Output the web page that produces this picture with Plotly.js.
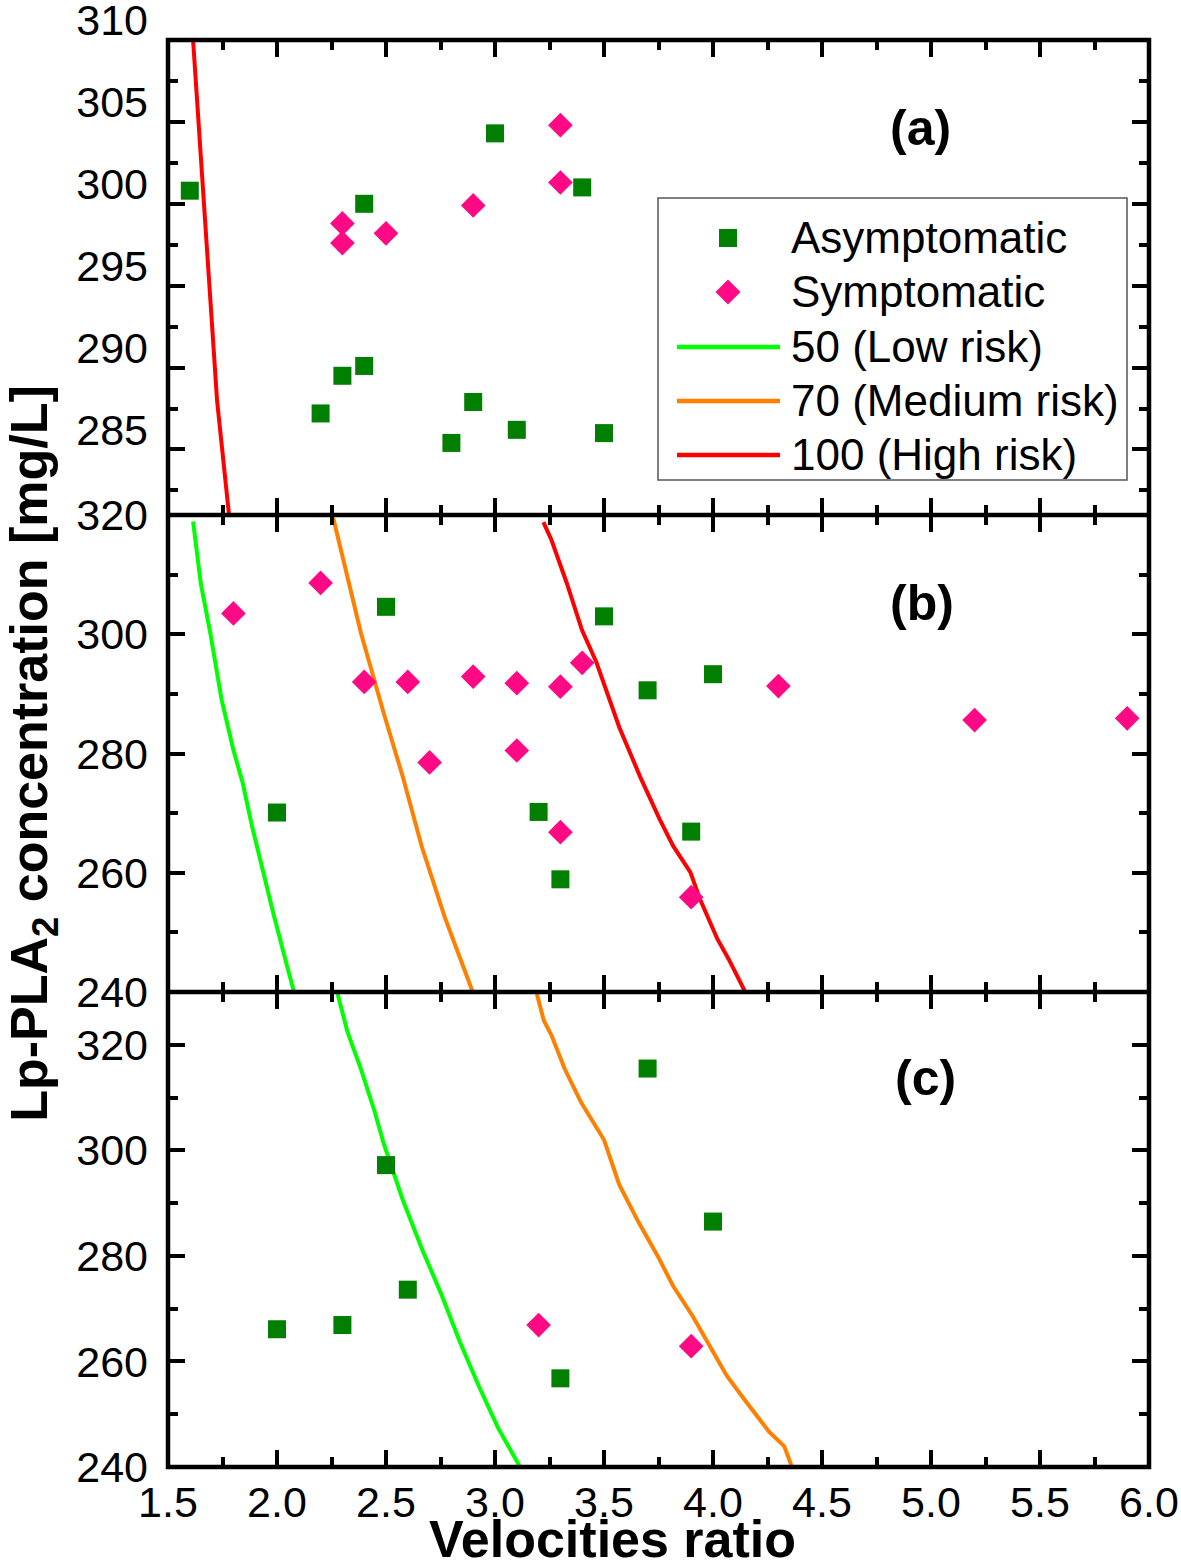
<!DOCTYPE html>
<html>
<head>
<meta charset="utf-8">
<script src="https://cdn.plot.ly/plotly-3.0.1.min.js"></script>
<style>html,body{margin:0;padding:0;background:#fff;}#chart{width:1181px;height:1564px;}</style>
</head>
<body>
<div id="chart"></div>
<script>
// ---------- Panel (a) ----------
var a_asym_x = [1.6, 2.4, 3.0, 3.4, 2.3, 2.4, 2.2, 2.9, 2.8, 3.1, 3.5];
var a_asym_y = [300.8, 300.0, 304.3, 301.0, 289.5, 290.1, 287.2, 287.9, 285.4, 286.2, 286.0];
var a_sym_x = [2.3, 2.3, 2.5, 2.9, 3.3, 3.3];
var a_sym_y = [298.8, 297.6, 298.2, 299.9, 304.8, 301.3];
var a_high_x = [1.615, 1.655, 1.693, 1.725, 1.780];
var a_high_y = [310.0, 302.0, 295.3, 288.0, 281.0];

// ---------- Panel (b) ----------
var b_asym_x = [2.5, 3.5, 3.7, 4.0, 2.0, 3.2, 3.9, 3.3];
var b_asym_y = [304.6, 303.0, 290.6, 293.3, 270.1, 270.2, 266.9, 258.9];
var b_sym_x = [1.8, 2.2, 2.4, 2.6, 2.9, 3.1, 3.3, 3.4, 4.3, 5.2, 5.9, 2.7, 3.1, 3.3, 3.9];
var b_sym_y = [303.5, 308.6, 292.0, 292.0, 292.9, 291.8, 291.2, 295.2, 291.3, 285.6, 285.9, 278.5, 280.5, 266.8, 255.9];
var b_low_x = [1.615, 1.650, 1.694, 1.746, 1.800, 1.843, 1.886, 1.948, 1.983, 2.035, 2.078];
var b_low_y = [318.9, 308.6, 300.2, 289.0, 280.6, 275.0, 267.7, 258.2, 253.2, 245.9, 240.0];
var b_med_x = [2.258, 2.385, 2.490, 2.577, 2.664, 2.769, 2.898];
var b_med_y = [319.5, 300.2, 286.7, 276.1, 264.4, 252.6, 240.0];
var b_high_x = [3.222, 3.259, 3.329, 3.399, 3.465, 3.570, 3.667, 3.755, 3.817, 3.896, 3.940, 4.020, 4.072, 4.148];
var b_high_y = [318.8, 315.8, 308.6, 300.7, 295.3, 284.4, 276.0, 269.0, 264.5, 260.1, 255.6, 248.9, 245.5, 240.0];

// ---------- Panel (c) ----------
var c_asym_x = [3.7, 2.5, 4.0, 2.6, 2.0, 2.3, 3.3];
var c_asym_y = [315.5, 297.2, 286.5, 273.6, 266.1, 266.9, 256.8];
var c_sym_x = [3.2, 3.9];
var c_sym_y = [266.9, 262.9];
var c_low_x = [2.278, 2.323, 2.385, 2.446, 2.490, 2.577, 2.664, 2.752, 2.839, 2.927, 3.014, 3.115];
var c_low_y = [329.6, 322.5, 315.4, 307.6, 301.2, 290.6, 281.4, 272.9, 263.7, 255.2, 247.4, 240.0];
var c_med_x = [3.192, 3.224, 3.259, 3.320, 3.396, 3.500, 3.570, 3.658, 3.746, 3.817, 3.905, 3.975, 4.063, 4.151, 4.257, 4.327, 4.362];
var c_med_y = [329.6, 324.6, 321.8, 315.4, 309.0, 302.0, 293.5, 286.4, 280.0, 274.3, 268.7, 263.7, 257.3, 252.4, 246.7, 243.9, 240.0];

// ---------- Labels ----------
var seriesNames = ['Asymptomatic', 'Symptomatic', '50 (Low risk)', '70 (Medium risk)', '100 (High risk)'];
var panelLabels = ['(a)', '(b)', '(c)'];
var xTitle = 'Velocities ratio';
var yTitle = 'Lp-PLA<sub>2</sub> concentration [mg/L]';

var GREEN_M = '#007f00', PINK = '#ff0a84';
var LOW = '#00ff00', MED = '#ff8000', HIGH = '#ff0000';
var FONT = 'Liberation Sans, Arial, sans-serif';

// plot-area geometry in pixels (used to place the hand-made legend)
var W = 1181, H = 1564, L = 168, R = 32, T = 40, B = 97;
var PW = W - L - R, PH = H - T - B;
function px(x) { return (x - L) / PW; }
function py(y) { return (H - B - y) / PH; }
var dC = (H - B - 992) / PH, dB = (H - B - 515) / PH;

function sq(x, y, xa, ya) {
  return {type: 'scatter', mode: 'markers', x: x, y: y, xaxis: xa, yaxis: ya,
    name: seriesNames[0], showlegend: false, marker: {symbol: 'square', size: 18, color: GREEN_M}};
}
function dm(x, y, xa, ya) {
  return {type: 'scatter', mode: 'markers', x: x, y: y, xaxis: xa, yaxis: ya,
    name: seriesNames[1], showlegend: false, marker: {symbol: 'diamond', size: 19, color: PINK}};
}
function ln(x, y, xa, ya, idx, color) {
  return {type: 'scatter', mode: 'lines', x: x, y: y, xaxis: xa, yaxis: ya,
    name: seriesNames[idx], showlegend: false, line: {color: color, width: 4}};
}

var traces = [
  ln(a_high_x, a_high_y, 'x3', 'y3', 4, HIGH),
  sq(a_asym_x, a_asym_y, 'x3', 'y3'),
  dm(a_sym_x, a_sym_y, 'x3', 'y3'),
  ln(b_low_x, b_low_y, 'x2', 'y2', 2, LOW),
  ln(b_med_x, b_med_y, 'x2', 'y2', 3, MED),
  ln(b_high_x, b_high_y, 'x2', 'y2', 4, HIGH),
  sq(b_asym_x, b_asym_y, 'x2', 'y2'),
  dm(b_sym_x, b_sym_y, 'x2', 'y2'),
  ln(c_low_x, c_low_y, 'x', 'y', 2, LOW),
  ln(c_med_x, c_med_y, 'x', 'y', 3, MED),
  sq(c_asym_x, c_asym_y, 'x', 'y'),
  dm(c_sym_x, c_sym_y, 'x', 'y')
];

function xAxis(anchor, labels) {
  return {anchor: anchor, range: [1.5, 6.0], dtick: 0.5, tick0: 0, tickformat: '.1f',
    ticks: 'inside', ticklen: 17, tickwidth: 4, tickcolor: '#000',
    minor: {dtick: 0.25, ticks: 'inside', ticklen: 10, tickwidth: 4, tickcolor: '#000', showgrid: false},
    showline: false, mirror: 'ticks',
    showgrid: false, zeroline: false, showticklabels: labels, automargin: false,
    tickfont: {family: FONT, size: 43, color: '#000'}, ticklabelstandoff: 6, fixedrange: true};
}
function yAxis(domain, range, dtick, mdtick, shift) {
  return {domain: domain, range: range, dtick: dtick, tick0: 0,
    ticks: 'inside', ticklen: 17, tickwidth: 4, tickcolor: '#000',
    minor: {dtick: mdtick, ticks: 'inside', ticklen: 10, tickwidth: 4, tickcolor: '#000', showgrid: false},
    showline: false, mirror: 'ticks',
    showgrid: false, zeroline: false, automargin: false,
    tickfont: {family: FONT, size: 43, color: '#000'}, ticklabelstandoff: 19,
    ticklabelshift: shift, ticklabeloverflow: 'allow', fixedrange: true};
}

var legendRowsY = [238, 292, 347, 401, 455];
var lineColors = [null, null, LOW, MED, HIGH];

var shapes = [
  // frame and panel separators
  {type: 'rect', xref: 'paper', yref: 'paper', x0: 0, x1: 1, y0: 0, y1: 1, line: {color: '#000', width: 4.5}},
  {type: 'line', xref: 'paper', yref: 'paper', x0: 0, x1: 1, y0: dC, y1: dC, line: {color: '#000', width: 4.5}},
  {type: 'line', xref: 'paper', yref: 'paper', x0: 0, x1: 1, y0: dB, y1: dB, line: {color: '#000', width: 4.5}},
  // legend box
  {type: 'rect', xref: 'paper', yref: 'paper', x0: px(658), x1: px(1127), y0: py(480), y1: py(198),
    line: {color: '#555', width: 1.5}, fillcolor: '#fff'},
  // legend symbols
  {type: 'rect', xref: 'paper', yref: 'paper', xsizemode: 'pixel', ysizemode: 'pixel',
    xanchor: px(728), yanchor: py(legendRowsY[0]), x0: -9, x1: 9, y0: -9, y1: 9,
    line: {width: 0}, fillcolor: GREEN_M},
  {type: 'path', xref: 'paper', yref: 'paper', xsizemode: 'pixel', ysizemode: 'pixel',
    xanchor: px(728), yanchor: py(legendRowsY[1]), path: 'M0,12.5 L12.5,0 L0,-12.5 L-12.5,0 Z',
    line: {width: 0}, fillcolor: PINK}
];
for (var i = 2; i < 5; i++) {
  shapes.push({type: 'line', xref: 'paper', yref: 'paper', x0: px(677), x1: px(780),
    y0: py(legendRowsY[i]), y1: py(legendRowsY[i]), line: {color: lineColors[i], width: 4.5}});
}

var annotations = [];
for (var k = 0; k < 5; k++) {
  annotations.push({xref: 'paper', yref: 'paper', x: px(789), y: py(legendRowsY[k] - 1),
    text: seriesNames[k], showarrow: false, xanchor: 'left', yanchor: 'middle',
    font: {family: FONT, size: 44, color: '#000'}});
}
var panelPos = [[920, 128], [922, 603], [925, 1078]];
for (var p = 0; p < 3; p++) {
  annotations.push({xref: 'paper', yref: 'paper', x: px(panelPos[p][0]), y: py(panelPos[p][1]),
    text: '<b>' + panelLabels[p] + '</b>', showarrow: false, xanchor: 'center', yanchor: 'middle',
    font: {family: FONT, size: 50, color: '#000'}});
}
annotations.push({xref: 'paper', yref: 'paper', x: px(612), y: py(1539),
  text: '<b>' + xTitle + '</b>', showarrow: false, xanchor: 'center', yanchor: 'middle',
  font: {family: FONT, size: 52, color: '#000'}});

var layout = {
  width: W, height: H,
  margin: {l: L, r: R, t: T, b: B},
  paper_bgcolor: '#fff', plot_bgcolor: '#fff',
  font: {family: FONT, color: '#000'},
  showlegend: false,
  xaxis: xAxis('y', true),
  xaxis2: Object.assign(xAxis('y2', false), {matches: 'x'}),
  xaxis3: Object.assign(xAxis('y3', false), {matches: 'x'}),
  yaxis: yAxis([0, dC], [240, 330], 20, 10, 0),
  yaxis2: Object.assign(yAxis([dC, dB], [240, 320], 20, 10, 0), {
    title: {text: '<b>' + yTitle + '</b>', font: {family: FONT, size: 52, color: '#000'}, standoff: 17}}),
  yaxis3: yAxis([dB, 1], [281, 310], 5, 2.5, -20),
  shapes: shapes,
  annotations: annotations
};

Plotly.newPlot('chart', traces, layout, {staticPlot: true, displayModeBar: false});
</script>
</body>
</html>
